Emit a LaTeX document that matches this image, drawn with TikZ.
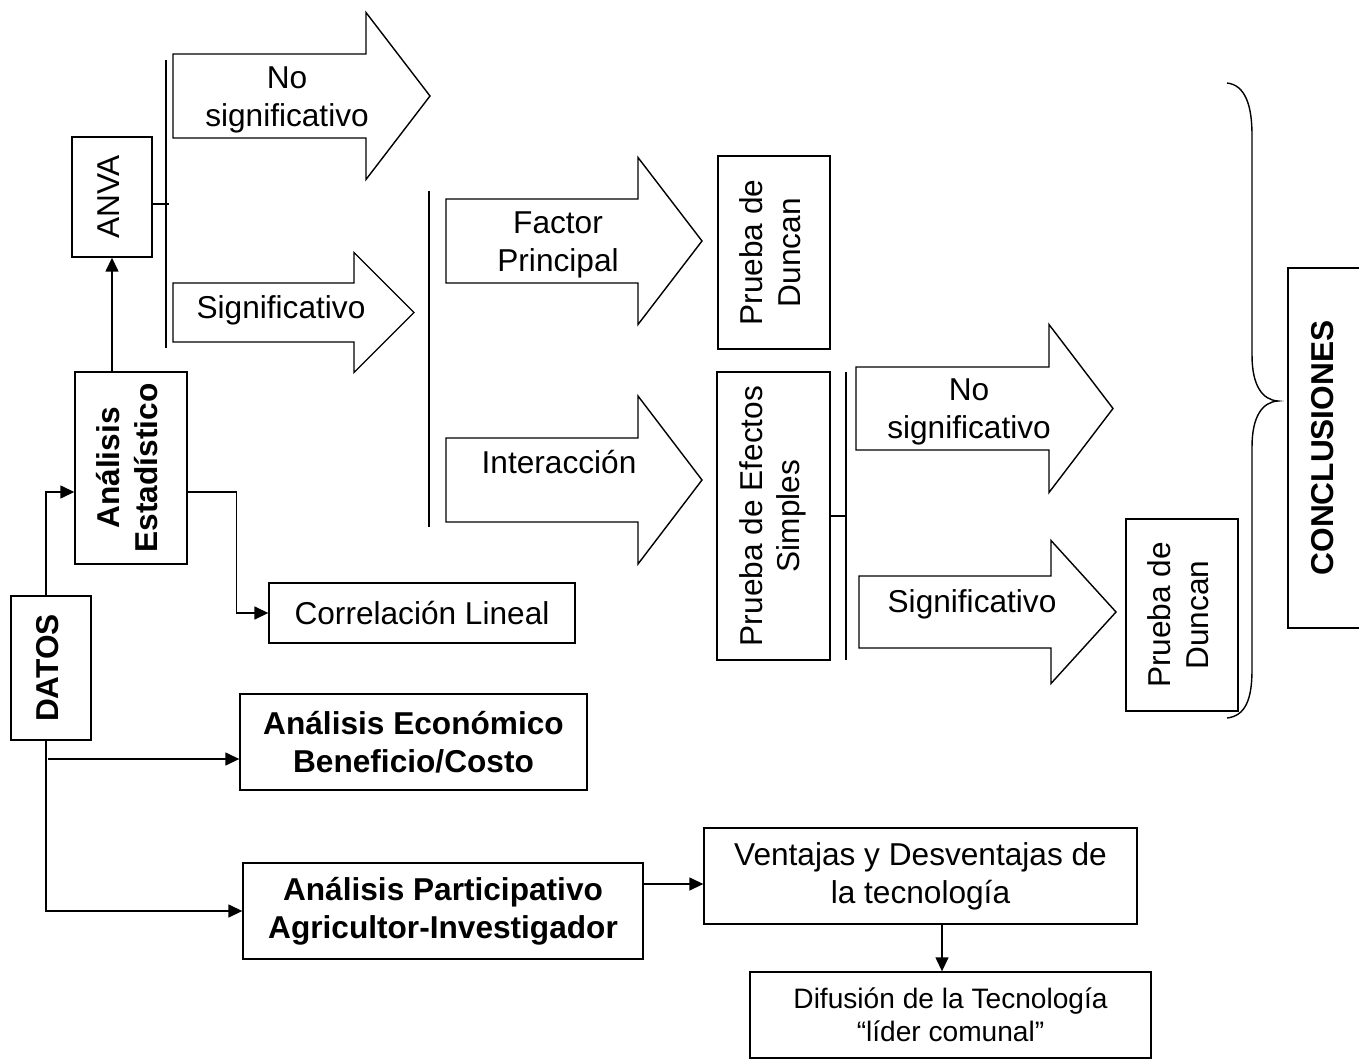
\documentclass[tikz,border=0pt]{standalone}
\usepackage{fontspec}
\setmainfont{Liberation Sans}
\usepackage{graphicx}
\usetikzlibrary{arrows.meta}
\usetikzlibrary{positioning}

% rotated text, read from bottom to top
\newcommand{\vtext}[1]{\rotatebox{90}{\begin{tabular}{@{}c@{}}#1\end{tabular}}}
% block arrow: left x, neck x, tip x, centre y, half body, half head
\newcommand{\blockarrow}[6]{%
	\draw[blockarr] (#1,{#4-#5}) -- (#2,{#4-#5}) -- (#2,{#4-#6}) -- (#3,#4)
		-- (#2,{#4+#6}) -- (#2,{#4+#5}) -- (#1,{#4+#5}) -- cycle;}

\begin{document}
\begin{tikzpicture}[x=0.02cm, y=-0.02cm,
	every node/.style={font=\fontsize{18}{21.5}\selectfont},
	box/.style={draw, line width=0.8pt, align=center, inner sep=2pt},
	bbox/.style={box, font=\fontsize{18}{21.5}\selectfont\bfseries},
	arr/.style={line width=0.8pt, -{Triangle[length=2.8mm, width=2.6mm]}},
	bar/.style={line width=1pt},
	blockarr/.style={draw, line width=0.8pt, line join=miter}]

	\useasboundingbox (0,0) rectangle (1359,1064);
	\clip (0,0) rectangle (1359,1064);

	% boxes
	\node[box, minimum width=1.6cm, minimum height=2.4cm] (anva) at (112,197) {\vtext{ANVA}};
	\node[bbox, minimum width=2.24cm, minimum height=3.84cm] (estad) at (131,468) {\vtext{Análisis\\Estadístico}};
	\node[bbox, minimum width=1.6cm, minimum height=2.88cm] (datos) at (51,668) {\vtext{DATOS}};
	\node[box, minimum width=6.12cm, minimum height=1.2cm] (corr) at (422,613) {Correlación Lineal};
	\node[box, minimum width=2.24cm, minimum height=3.86cm] (dunc1) at (774,252.5) {\vtext{Prueba de\\Duncan}};
	\node[box, minimum width=2.26cm, minimum height=5.76cm] (pes) at (773.5,516) {\vtext{Prueba de Efectos\\Simples}};
	\node[box, minimum width=2.24cm, minimum height=3.84cm] (dunc2) at (1182,615) {\vtext{Prueba de\\Duncan}};
	\node[bbox, minimum width=1.52cm, minimum height=7.2cm] (concl) at (1326,448) {\vtext{CONCLUSIONES}};
	\node[bbox, minimum width=6.94cm, minimum height=1.92cm] (econ) at (413.5,742) {Análisis Económico\\Beneficio/Costo};
	\node[bbox, minimum width=8cm, minimum height=1.92cm] (part) at (443,911) {Análisis Participativo\\Agricultor-Investigador};
	\node[box, minimum width=8.66cm, minimum height=1.92cm] (vent) at (920.5,876) {Ventajas y Desventajas de\\la tecnología};
	\node[box, minimum width=8.02cm, minimum height=1.72cm, font=\fontsize{16}{19}\selectfont] (dif) at (950.5,1015) {Difusión de la Tecnología\\“líder comunal”};

	% block arrows
	\blockarrow{173}{366}{430}{96}{42}{83.5}
	\blockarrow{173}{354}{414}{312.5}{29.5}{60}
	\blockarrow{446}{638}{702}{241}{42}{83.5}
	\blockarrow{446}{638}{702}{480}{42}{84}
	\blockarrow{856}{1049}{1113}{408.5}{41.5}{84}
	\blockarrow{859}{1051}{1116}{612}{36}{71.5}

	\node[align=center] (ns1) at (287,100) {No\\significativo};
	\node[anchor=base] (s1) at (281,318) {Significativo};
	\node[align=center] (fp) at (558,245) {Factor\\Principal};
	\node[anchor=base] (int) at (559,473) {Interacción};
	\node[align=center] (ns2) at (969,412) {No\\significativo};
	\node[anchor=base] (s2) at (972,612) {Significativo};

	% bars
	\draw[bar] (166,60) -- (166,348);
	\draw[bar] (429,191) -- (429,527);
	\draw[bar] (846,372) -- (846,660);

	% connectors
	\coordinate (kd) at (46,492);
	\coordinate (ke) at (48,759);
	\coordinate (kv) at (641,884);
	\coordinate (kf) at (942,0);

	\draw[arr] (estad.north -| anva.south) -- (anva.south);
	\draw[line width=0.8pt] (anva.east) ++(0,7) -- ++(16,0);
	\draw[line width=0.8pt] (pes.east) -- ++(16,0);
	\draw[arr] (datos.north -| kd) |- (estad.west |- kd);
	\draw[arr] (estad.east |- kd) -- ++(49,0) |- (corr.west);
	\draw[arr] (datos.south -| kd) |- (part.west);
	\draw[arr] (ke) -- (econ.west |- ke);
	\draw[arr] (part.east |- kv) -- (vent.west |- kv);
	\draw[arr] (vent.south -| kf) -- (dif.north -| kf);

	% brace
	\draw[line width=0.8pt] (1227,83) .. controls (1245,85) and (1252,105) .. (1252,135)
		-- (1252,355) .. controls (1252,385) and (1262,400) .. (1278,401)
		.. controls (1262,402) and (1252,417) .. (1252,447)
		-- (1252,670) .. controls (1252,700) and (1245,716) .. (1227,718);
\end{tikzpicture}
\end{document}
